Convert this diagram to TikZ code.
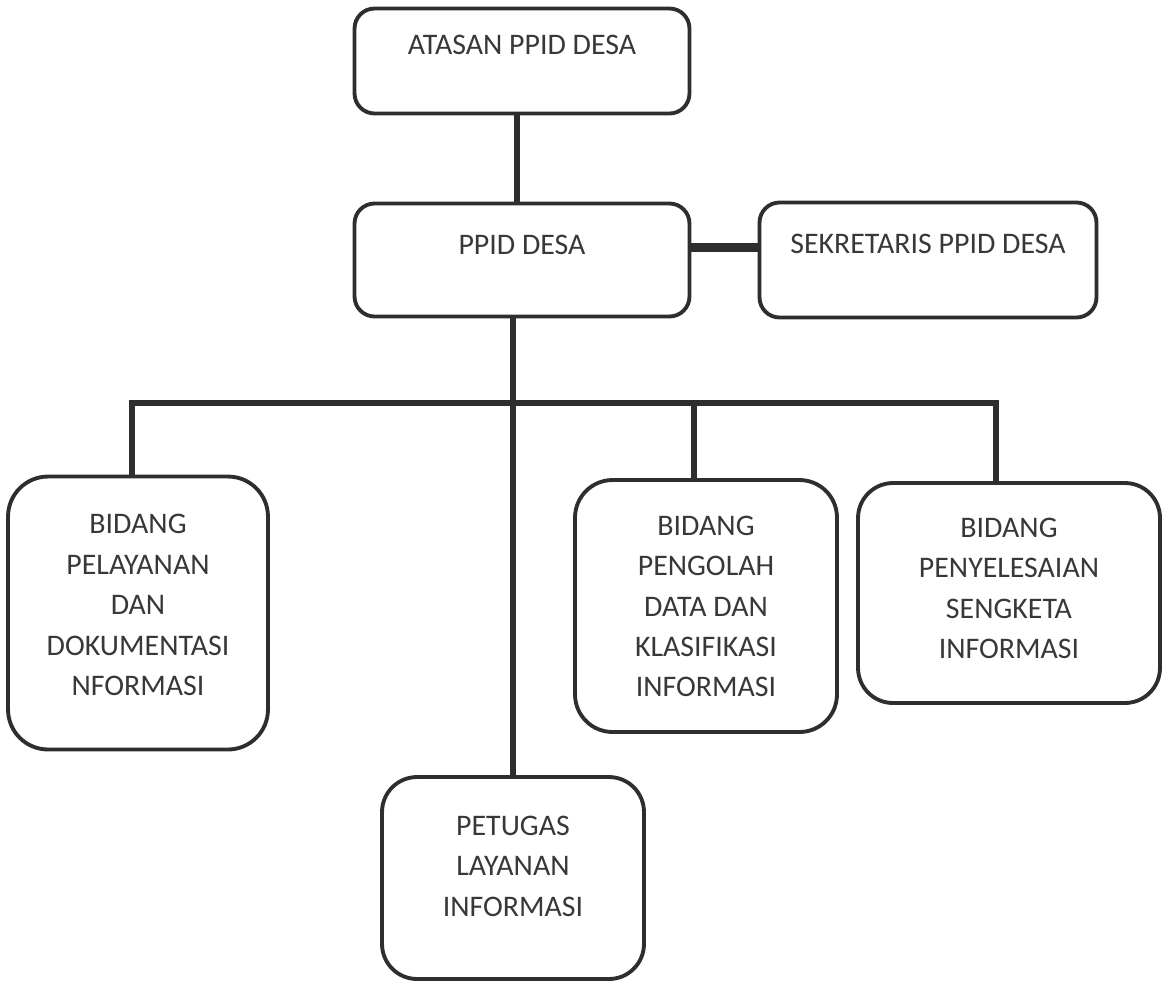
\documentclass[tikz,border=0pt]{standalone}
\usepackage{fontspec}
\setmainfont{Carlito}
\usepackage{tikz}
\usetikzlibrary{calc, positioning}
\definecolor{ink}{HTML}{2E2E2E}
\definecolor{txtgray}{HTML}{383838}

\begin{document}
\begin{tikzpicture}[x=0.02cm, y=-0.02cm,
    box/.style={draw=ink, line width=2.2pt, rounded corners=0.4cm, inner sep=0pt},
    bigbox/.style={box, rounded corners=0.8cm},
    txt/.style={inner sep=0pt, align=center, text=txtgray, font=\fontsize{17}{23}\selectfont},
    conn/.style={draw=ink, line width=3pt}]
  \useasboundingbox (0,0) rectangle (1162,985);

  \node[box, minimum width=6.7cm, minimum height=2.1cm] (atasan) at (522,61) {};
  \node[txt, below=0.57cm of atasan.north] (atasan_t) {ATASAN PPID DESA};

  \node[box, minimum width=6.7cm, minimum height=2.26cm] (ppid) at (522,260) {};
  \node[txt, below=0.67cm of ppid.north] (ppid_t) {PPID DESA};

  \node[box, minimum width=6.74cm, minimum height=2.3cm] (sek) at (928,260) {};
  \node[txt, below=0.67cm of sek.north] (sek_t) {SEKRETARIS PPID DESA};

  \node[bigbox, minimum width=5.2cm, minimum height=5.46cm] (pelayanan) at (138,613) {};
  \node[txt, below=0.79cm of pelayanan.north] (pelayanan_t) {BIDANG\\PELAYANAN\\DAN\\DOKUMENTASI\\NFORMASI};

  \node[bigbox, rounded corners=0.75cm, minimum width=5.24cm, minimum height=5.04cm] (pengolah) at (706,606) {};
  \node[txt, below=0.75cm of pengolah.north] (pengolah_t) {BIDANG\\PENGOLAH\\DATA DAN\\KLASIFIKASI\\INFORMASI};

  \node[bigbox, rounded corners=0.7cm, minimum width=6.04cm, minimum height=4.4cm] (penyelesaian) at (1009,593) {};
  \node[txt, below=0.73cm of penyelesaian.north] (penyelesaian_t) {BIDANG\\PENYELESAIAN\\SENGKETA\\INFORMASI};

  \node[bigbox, rounded corners=0.7cm, minimum width=5.24cm, minimum height=4.04cm] (petugas) at (513,878) {};
  \node[txt, below=0.81cm of petugas.north] (petugas_t) {PETUGAS\\LAYANAN\\INFORMASI};

  \coordinate (d1) at (132,403);
  \coordinate (d3) at (694,403);
  \coordinate (d4) at (996,403);

  \draw[conn] ([xshift=-2.8pt]atasan.south) -- ([xshift=-2.8pt]ppid.north);
  \draw[conn, line width=5pt] ([yshift=7pt]ppid.east) -- ([yshift=7pt]sek.west);
  \draw[conn, line width=3.4pt] (ppid.south -| petugas) -- (petugas.north);
  \draw[conn, line width=3.8pt] (d1 |- pelayanan.north) -- (d1) -- (d4) -- (d4 |- penyelesaian.north);
  \draw[conn] (d3) -- (d3 |- pengolah.north);
\end{tikzpicture}
\end{document}
